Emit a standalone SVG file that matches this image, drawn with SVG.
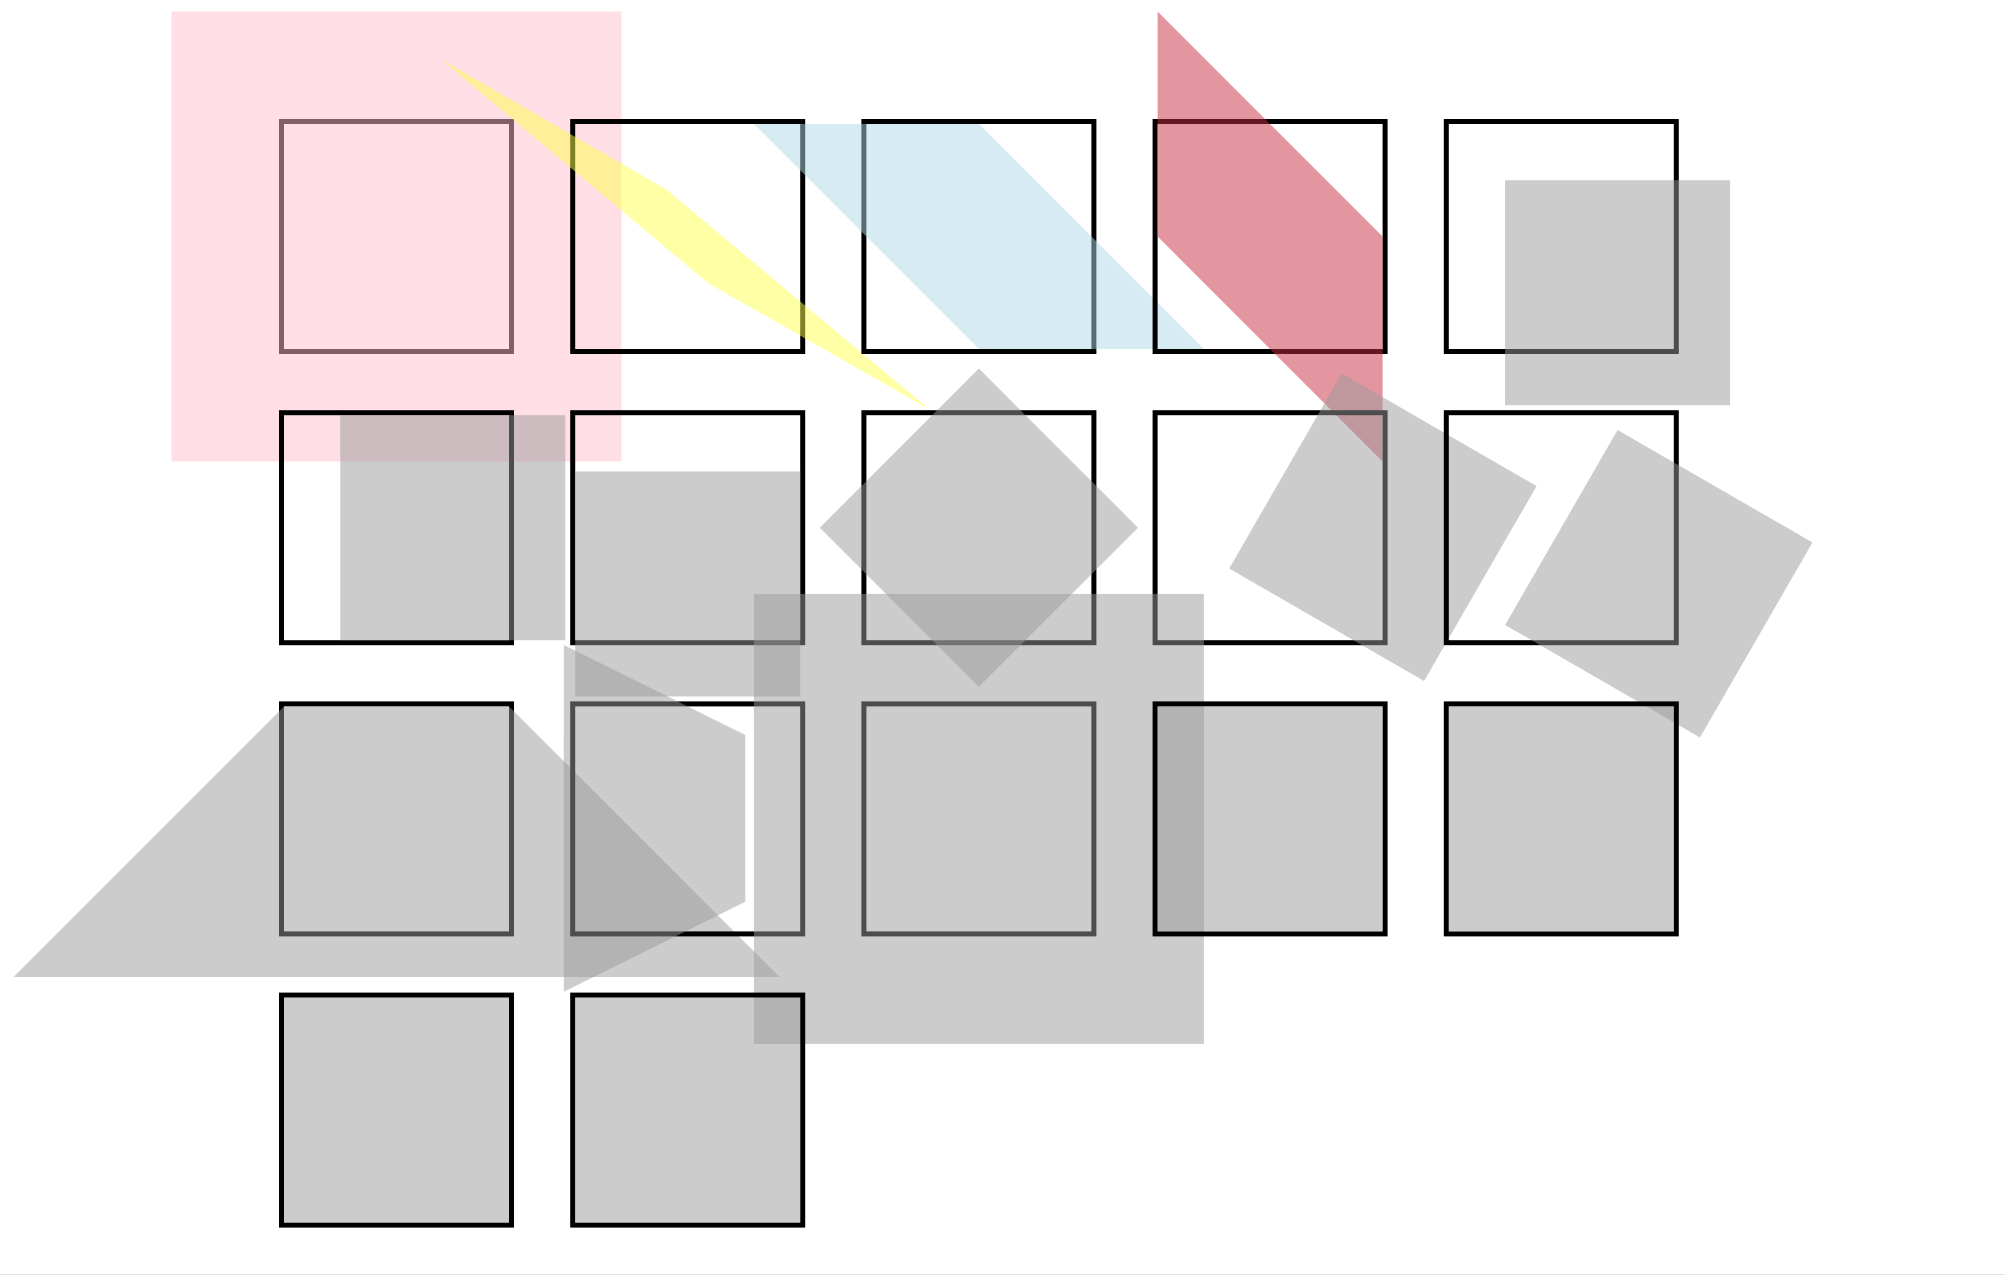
<svg xmlns="http://www.w3.org/2000/svg" width="2005" height="1275" viewBox="0 0 2005 1275">
<style>
.box{fill:none;stroke:#000;stroke-width:5}
.gr{fill:#999;fill-opacity:0.5}
.pk{fill:#ffc0cb;fill-opacity:0.5}
.yl{fill:#ffff4d;fill-opacity:0.5}
.lb{fill:#add8e6;fill-opacity:0.5}
.rd{fill:#c92d41;fill-opacity:0.5}
</style>
<defs>
<rect id="sq" x="-112.5" y="-112.5" width="225" height="225"/>
</defs>
<rect x="0" y="0" width="2005" height="1275" fill="#fff"/>
<g id="node-1">
<rect class="box" x="281.5" y="121.5" width="230" height="230"/>
<rect class="pk" x="171.5" y="11.5" width="450" height="450"/>
</g>
<g id="node-2">
<rect class="box" x="572.7" y="121.5" width="230" height="230"/>
<polygon class="yl" points="441.5,59.5 667,190 929.5,409.5 708,283"/>
</g>
<g id="node-3">
<rect class="box" x="863.9" y="121.5" width="230" height="230"/>
<polygon class="lb" points="753.9,124 978.9,124 1203.9,349 978.9,349"/>
</g>
<g id="node-4">
<rect class="box" x="1155.1" y="121.5" width="230" height="230"/>
<polygon class="rd" points="1157.6,11.5 1382.6,236.5 1382.6,461.5 1157.6,236.5"/>
</g>
<g id="node-5">
<rect class="box" x="1446.3" y="121.5" width="230" height="230"/>
<rect class="gr" x="1505.05" y="180.25" width="225" height="225"/>
</g>
<g id="node-6">
<rect class="box" x="281.5" y="412.7" width="230" height="230"/>
<rect class="gr" x="340.25" y="415.2" width="225" height="225"/>
</g>
<g id="node-7">
<rect class="box" x="572.7" y="412.7" width="230" height="230"/>
<rect class="gr" x="575.2" y="471.45" width="225" height="225"/>
</g>
<g id="node-8">
<rect class="box" x="863.9" y="412.7" width="230" height="230"/>
<use href="#sq" class="gr" transform="translate(978.9 527.7) rotate(45)"/>
</g>
<g id="node-9">
<rect class="box" x="1155.1" y="412.7" width="230" height="230"/>
<use href="#sq" class="gr" transform="translate(1382.9 527.3) rotate(30)"/>
</g>
<g id="node-10">
<rect class="box" x="1446.3" y="412.7" width="230" height="230"/>
<use href="#sq" class="gr" transform="translate(1658.8 583.7) rotate(30)"/>
</g>
<g id="node-11">
<rect class="box" x="281.5" y="703.9" width="230" height="230"/>
<polygon class="gr" points="284,706.4 509,706.4 779.5,977 13.5,977"/>
</g>
<g id="node-12">
<rect class="box" x="572.7" y="703.9" width="230" height="230"/>
<polygon class="gr" points="563.8,645 745.3,735 745.3,901.7 563.8,991.7"/>
</g>
<g id="node-13">
<rect class="box" x="863.9" y="703.9" width="230" height="230"/>
<rect class="gr" x="753.9" y="593.9" width="450" height="450"/>
</g>
<g id="node-14">
<rect class="box" x="1155.1" y="703.9" width="230" height="230"/>
<rect class="gr" x="1157.6" y="706.4" width="225" height="225"/>
</g>
<g id="node-15">
<rect class="box" x="1446.3" y="703.9" width="230" height="230"/>
<rect class="gr" x="1448.8" y="706.4" width="225" height="225"/>
</g>
<g id="node-16">
<rect class="box" x="281.5" y="995.1" width="230" height="230"/>
<rect class="gr" x="284" y="997.6" width="225" height="225"/>
</g>
<g id="node-17">
<rect class="box" x="572.7" y="995.1" width="230" height="230"/>
<rect class="gr" x="575.2" y="997.6" width="225" height="225"/>
</g>
<g id="connectors"></g>
<rect x="0" y="1274" width="2005" height="1" fill="#e4e4e4"/>
</svg>
